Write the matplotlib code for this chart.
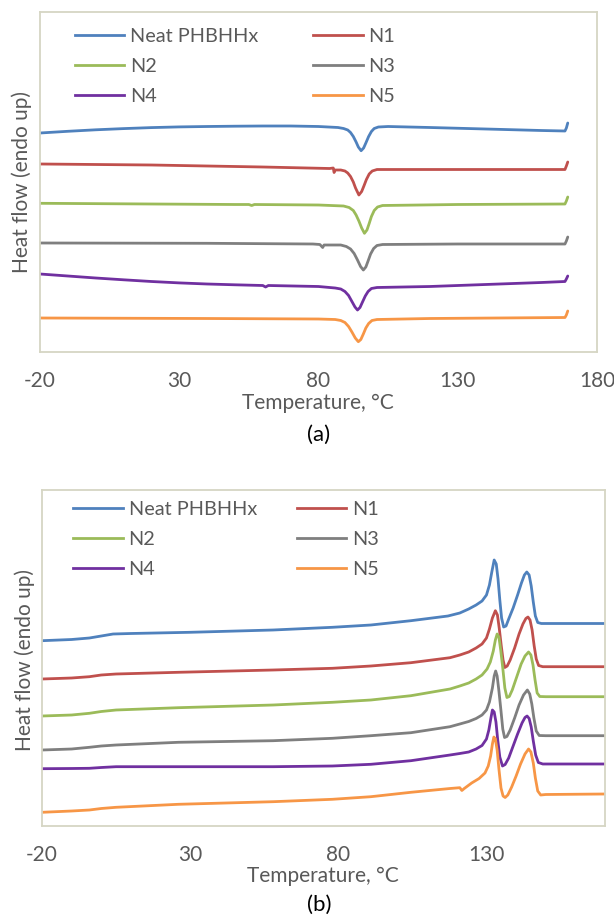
import matplotlib
matplotlib.use("Agg")
import matplotlib.pyplot as plt
from matplotlib.lines import Line2D

# ---------------- data ----------------
series_names = ["Neat PHBHHx", "N1", "N2", "N3", "N4", "N5"]
series_colors = ["#4F81BD", "#C0504D", "#9BBB59", "#7F7F7F", "#7030A0", "#F79646"]

# Panel (a): cooling scans (heat flow, a.u.)
a_neat_T = [-20, -10, 0, 10, 20, 30, 40, 50, 60, 70, 80, 87, 89, 90.5, 91.5, 92.5, 93.5, 94.3, 95.3, 96.2, 97, 98, 99, 100, 101.5, 105, 120, 140, 160, 168.5, 169, 169.5]
a_neat_H = [219, 220.7, 222.2, 223.4, 224.4, 225.1, 225.5, 225.8, 226, 226, 225.5, 224.5, 223.5, 222, 219.5, 215.5, 210, 205, 201.3, 204, 209, 215.5, 220.5, 223.5, 225, 225.5, 224.5, 223, 221.5, 221, 224, 229]

a_n1_T = [-20, 20, 60, 84, 85.3, 85.6, 86, 88, 89.5, 90.5, 91.5, 92.5, 93.3, 94.5, 95.5, 96.3, 97.2, 98.2, 99.3, 101, 120, 150, 168.5, 169, 169.5]
a_n1_H = [188, 187, 185, 183.5, 184, 179.5, 182, 182, 181, 179, 175.5, 170, 164, 157, 160.5, 166, 172.5, 178, 181, 182.5, 182.5, 182.5, 182.5, 186, 190]

a_n2_T = [-20, 20, 50, 55, 56, 57, 80, 89, 91, 92.5, 93.5, 94.5, 95.5, 96.5, 97.4, 98.2, 99, 100, 101.2, 103, 130, 168.5, 169, 169.5]
a_n2_H = [148.7, 148, 147.5, 147.5, 146.5, 147.5, 147, 146, 144.5, 141.5, 137, 131, 124, 118.7, 122, 128.5, 135.5, 141.5, 145, 146.5, 147.5, 148, 151, 155]

a_n3_T = [-20, 40, 78, 80.5, 81.5, 82, 88, 90, 91.5, 92.8, 94, 95.1, 96.1, 97, 97.8, 98.7, 99.8, 101, 103, 130, 168.5, 169, 169.5]
a_n3_H = [109, 108.7, 108, 107.5, 104.5, 107, 107, 105.5, 103, 98.5, 92, 85.5, 82, 85, 91, 98, 103.5, 106.5, 107.5, 108, 108, 111, 115]

a_n4_T = [-20, -10, 0, 10, 20, 30, 40, 50, 60, 61, 62, 80, 86, 88, 89.5, 90.8, 92, 93.1, 94, 94.9, 95.8, 96.8, 97.8, 99, 101, 120, 140, 160, 168.5, 169, 169.5]
a_n4_H = [78, 76, 74, 72.2, 70.5, 69.1, 68, 67.2, 66.5, 65, 66.5, 65.5, 64, 63, 60.5, 56.5, 50.5, 45, 42, 44.5, 50, 56, 60.5, 63.5, 64.5, 65.5, 67.5, 69.5, 70.5, 73, 76]

a_n5_T = [-20, 40, 80, 86, 88, 89.5, 90.8, 92, 93.2, 94.3, 95.2, 96.1, 97, 98, 99.2, 101, 120, 168.5, 169, 169.5]
a_n5_H = [34, 33.5, 33, 32.5, 31.5, 29.5, 25.5, 20, 14, 10.3, 12.5, 18, 24, 28.5, 31.5, 32.5, 33.5, 34.5, 37, 41]

# Panel (b): heating scans (heat flow, a.u.)
b_neat_T = [-20, -10, -4, 0, 4, 10, 30, 58, 78, 91, 104.5, 117, 121, 124, 126.5, 128.5, 130, 131, 131.8, 132.6, 133.3, 133.9, 134.5, 135.1, 135.8, 136.6, 137.5, 139, 140.5, 141.8, 142.8, 143.6, 144.4, 145.1, 145.8, 146.5, 147.3, 148.5, 170]
b_neat_H = [185.3, 186.5, 188, 190, 192, 192.5, 193.7, 196, 198.7, 201, 205.3, 210, 213, 217, 221, 225, 231, 241, 254, 266, 262, 247, 226, 208, 199, 200, 207, 218, 231, 243, 251, 254, 251, 240, 224, 210, 203.5, 202.5, 202.5]

b_n1_T = [-20, -10, -4, 0, 5, 26, 58, 78, 91, 104.5, 117.7, 121, 124, 126.5, 128.5, 130, 131, 132, 133, 133.7, 134.3, 135, 135.6, 136.2, 137, 138, 139.5, 141, 142.3, 143.3, 144, 144.7, 145.4, 146.1, 146.8, 147.6, 149, 170]
b_n1_H = [147, 148, 149.3, 151, 152, 153.7, 156, 157.7, 160, 163.3, 168.3, 171, 174, 178, 182, 188, 197, 208, 215.3, 211, 198, 180, 166, 158.5, 160, 166, 178, 192, 202, 207.5, 209, 206, 196, 180, 167, 160.5, 159.3, 159.3]

b_n2_T = [-20, -10, -4, 0, 5, 26, 58, 78, 91, 104.5, 117.7, 121, 124, 126.5, 128.5, 130.2, 131.3, 132.3, 133, 133.6, 134.2, 134.8, 135.5, 136.2, 136.9, 137.7, 138.7, 140.2, 141.7, 143, 144.2, 145, 145.7, 146.4, 147.1, 148, 150, 170]
b_n2_H = [110, 111, 112.7, 114.5, 116, 118.3, 121, 123.7, 126, 130.3, 137, 140, 143, 147, 151, 157, 164, 175, 186, 192, 189, 176, 158, 138, 128.5, 129.5, 136, 149, 162, 170, 174, 171, 161, 146, 133, 129.5, 129.3, 129.3]

b_n3_T = [-20, -10, -4, 0, 5, 26, 58, 78, 91, 104.5, 117.7, 121, 124, 126.5, 128.5, 130, 131, 132, 132.6, 133.1, 133.6, 134.2, 134.9, 135.5, 136.1, 136.9, 138, 139.5, 141, 142.5, 143.8, 144.6, 145.3, 146, 146.8, 147.8, 150, 170]
b_n3_H = [76, 77, 78.7, 80, 81, 83.7, 85.3, 87.7, 90.3, 93.3, 99.3, 102, 104.5, 107.5, 111, 116, 124, 138, 150, 155, 150, 135, 115, 97, 88.5, 89.5, 96, 108, 121, 131, 136, 132, 122, 108, 95, 90.5, 90.3, 90.3]

b_n4_T = [-20, -10, -4, 0, 5, 26, 58, 78, 91, 104.5, 117.7, 121, 124, 126.5, 128.5, 130, 130.8, 131.5, 132, 132.6, 133.2, 133.8, 134.5, 135.4, 136.3, 137.5, 139, 140.5, 142, 143, 143.7, 144.4, 145.1, 145.8, 146.6, 147.5, 149, 170]
b_n4_H = [57.3, 57.5, 57.7, 58.5, 59.3, 59.3, 59.3, 60, 61.7, 65.3, 71, 72.5, 74, 77, 80.5, 87, 96, 108, 116, 114, 104, 86, 69, 60, 61.5, 68, 80, 92, 103, 108.5, 110, 107.5, 99, 85, 71, 63.5, 62, 62]

b_n5_T = [-20, -10, -4, 0, 5, 26, 58, 78, 91, 104.5, 117.7, 121, 121.7, 122.5, 125, 127.5, 129.5, 130.6, 131.4, 132, 132.5, 133, 133.6, 134.2, 134.9, 135.6, 136.3, 137.2, 138.5, 140, 141.5, 143, 144.2, 145, 145.8, 146.5, 147.3, 148.3, 150, 170]
b_n5_H = [13.7, 15, 16, 17.5, 18.7, 21.7, 24.3, 26.7, 29.3, 33.7, 37.5, 38.3, 35.5, 37.5, 43, 47.5, 53, 60, 70, 82, 89, 87, 76, 57, 38, 30, 28.5, 31, 39, 50, 62, 72, 77, 74, 63, 48, 35, 31, 31.5, 32]

a_ticks = [-20, 30, 80, 130, 180]
b_ticks = [-20, 30, 80, 130]

# ---------------- style ----------------
plt.rcParams['font.family'] = ['Lato', 'DejaVu Sans']
TXT = "#595959"
SPINE = "#D6D6C4"
LW = 2.0

W, H = 614, 916
fig = plt.figure(figsize=(W / 100, H / 100), dpi=100)
fig.patch.set_facecolor("white")


def px_axes(l, t, r, b):
    return fig.add_axes([l / W, 1 - b / H, (r - l) / W, (b - t) / H])


def style(ax, xlim, ticks, ylim):
    ax.set_xlim(*xlim)
    ax.set_ylim(*ylim)
    ax.set_xticks(ticks)
    ax.set_xticklabels([str(t) for t in ticks])
    ax.set_yticks([])
    ax.tick_params(axis='x', length=0, pad=14, labelsize=15, labelcolor=TXT)
    for s in ax.spines.values():
        s.set_color(SPINE)
        s.set_linewidth(1.3)


def legend(ax, anchor, colspace):
    hs = [Line2D([], [], color=c, lw=LW) for c in series_colors]
    order = [0, 2, 4, 1, 3, 5]
    ax.legend([hs[i] for i in order], [series_names[i] for i in order], ncol=2,
              loc='upper left', bbox_to_anchor=anchor, frameon=False,
              fontsize=14.3, labelcolor=TXT, handlelength=2.5, handletextpad=0.3,
              columnspacing=colspace, labelspacing=0.65, borderpad=0, borderaxespad=0)


# Panel (a)
axa = px_axes(40, 12, 597, 352)
a_data = [(a_neat_T, a_neat_H), (a_n1_T, a_n1_H), (a_n2_T, a_n2_H),
          (a_n3_T, a_n3_H), (a_n4_T, a_n4_H), (a_n5_T, a_n5_H)]
for (T, Hf), c in zip(a_data, series_colors):
    axa.plot(T, Hf, color=c, lw=LW, solid_joinstyle='round', solid_capstyle='round')
style(axa, (-20, 180), a_ticks, (0, 340))
legend(axa, (0.062, 0.952), 2.75)

# Panel (b)
axb = px_axes(42, 490, 605, 826)
b_data = [(b_neat_T, b_neat_H), (b_n1_T, b_n1_H), (b_n2_T, b_n2_H),
          (b_n3_T, b_n3_H), (b_n4_T, b_n4_H), (b_n5_T, b_n5_H)]
for (T, Hf), c in zip(b_data, series_colors):
    axb.plot(T, Hf, color=c, lw=LW, solid_joinstyle='round', solid_capstyle='round')
style(axb, (-20, 170), b_ticks, (0, 336))
legend(axb, (0.055, 0.968), 2.0)

# Labels
fig.text(318 / W, 1 - 403 / H, "Temperature, °C", ha='center', va='center', fontsize=15, color=TXT)
fig.text(323 / W, 1 - 876 / H, "Temperature, °C", ha='center', va='center', fontsize=15, color=TXT)
fig.text(22 / W, 1 - 182 / H, "Heat flow (endo up)", ha='center', va='center', rotation=90, fontsize=15, color=TXT)
fig.text(25 / W, 1 - 660 / H, "Heat flow (endo up)", ha='center', va='center', rotation=90, fontsize=15, color=TXT)
fig.text(319 / W, 1 - 435 / H, "(a)", ha='center', va='center', fontsize=16, color='black')
fig.text(319 / W, 1 - 905 / H, "(b)", ha='center', va='center', fontsize=16, color='black')

fig.savefig("out.png", dpi=100, facecolor='white')
